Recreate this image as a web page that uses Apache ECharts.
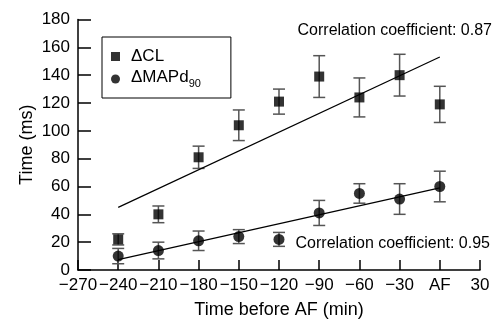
<!DOCTYPE html>
<html>
<head>
<meta charset="utf-8">
<script src="https://cdn.jsdelivr.net/npm/echarts@6/dist/echarts.min.js"></script>
<style>
  html, body { margin: 0; padding: 0; background: #fff; }
  #chart { width: 497px; height: 320px; }
</style>
</head>
<body>
<div id="chart"></div>
<script>
// time before AF (min), 0 = AF
const times = [-240, -210, -180, -150, -120, -90, -60, -30, 0]

// delta CL (ms) with error
const clMean = [22, 40, 81, 104, 121, 139, 124, 140, 119]
const clErr = [4, 6, 8, 11, 9, 15, 14, 15, 13]

// delta MAPd90 (ms) with error
const mapMean = [10, 14, 21, 24, 22, 41, 55, 51, 60]
const mapErr = [5.5, 6, 7, 5, 5, 9, 7, 11, 11]

// regression lines endpoints
const clFit = [[-240, 45], [0, 153]]
const mapFit = [[-240, 7.5], [0, 59]]

const font = 'Liberation Sans, Arial, Helvetica, sans-serif'

const chart = echarts.init(document.getElementById('chart'))

const errorSeries = (mean, err) => ({
  type: 'custom',
  silent: true,
  z: 1,
  data: times.map((t, i) => [t, mean[i] - err[i], mean[i] + err[i]]),
  renderItem: (params, api) => {
    const lo = api.coord([api.value(0), api.value(1)])
    const hi = api.coord([api.value(0), api.value(2)])
    const half = 6
    const style = { stroke: '#555', lineWidth: 1.5 }
    return {
      type: 'group',
      children: [
        { type: 'line', shape: { x1: lo[0], y1: lo[1], x2: hi[0], y2: hi[1] }, style },
        { type: 'line', shape: { x1: lo[0] - half, y1: lo[1], x2: lo[0] + half, y2: lo[1] }, style },
        { type: 'line', shape: { x1: hi[0] - half, y1: hi[1], x2: hi[0] + half, y2: hi[1] }, style }
      ]
    }
  }
})

const option = {
  animation: false,
  backgroundColor: '#fff',
  textStyle: { fontFamily: font },
  grid: { left: 78, right: 17, top: 19.5, bottom: 50, containLabel: false, outerBoundsMode: 'none' },
  legend: {
    orient: 'vertical',
    left: 102,
    top: 37,
    itemWidth: 9,
    itemHeight: 9,
    itemGap: 4,
    padding: [11, 30, 9, 9],
    borderColor: '#000',
    borderWidth: 1,
    borderRadius: 0,
    data: [
      { name: 'ΔCL', icon: 'rect' },
      { name: 'ΔMAPd90', icon: 'circle' }
    ],
    formatter: name => name === 'ΔMAPd90' ? '{a|ΔMAPd}{s|90}' : '{b|' + name + '}',
    textStyle: {
      color: '#000',
      rich: {
        b: { fontSize: 17, fontFamily: font, color: '#000', lineHeight: 20, padding: [0, 0, 0, 6] },
        a: { fontSize: 17, fontFamily: font, color: '#000', lineHeight: 20, verticalAlign: 'top', padding: [0, 0, 0, 6] },
        s: { fontSize: 11, fontFamily: font, color: '#000', lineHeight: 14, verticalAlign: 'bottom' }
      }
    }
  },
  xAxis: {
    type: 'value',
    min: -270,
    max: 30,
    interval: 30,
    name: 'Time before AF (min)',
    nameLocation: 'middle',
    nameGap: 31,
    nameMoveOverlap: false,
    nameTextStyle: { fontSize: 18, color: '#000', fontFamily: font },
    axisLine: { onZero: false, lineStyle: { color: '#000', width: 1.5 } },
    axisTick: { inside: true, length: 10, lineStyle: { color: '#000', width: 1.5 } },
    axisLabel: {
      fontSize: 17,
      color: '#000',
      margin: 7,
      formatter: v => v === 0 ? 'AF' : String(v).replace('-', '\u2212')
    },
    splitLine: { show: false }
  },
  yAxis: {
    type: 'value',
    min: 0,
    max: 180,
    interval: 20,
    name: 'Time (ms)',
    nameLocation: 'middle',
    nameGap: 42,
    nameMoveOverlap: false,
    nameTextStyle: { fontSize: 18, color: '#000', fontFamily: font },
    axisLine: { show: true, onZero: false, lineStyle: { color: '#000', width: 1.5 } },
    axisTick: { show: true, inside: true, length: 13, lineStyle: { color: '#000', width: 1.5 } },
    axisLabel: { fontSize: 17, color: '#000', margin: 8 },
    splitLine: { show: false }
  },
  graphic: [
    {
      type: 'text',
      right: 5,
      top: 23,
      style: { text: 'Correlation coefficient: 0.87', fontSize: 16, fontFamily: font, fill: '#000' }
    },
    {
      type: 'text',
      right: 7,
      top: 236,
      style: { text: 'Correlation coefficient: 0.95', fontSize: 16, fontFamily: font, fill: '#000' }
    }
  ],
  series: [
    {
      type: 'line',
      data: clFit,
      symbol: 'none',
      silent: true,
      z: 1,
      lineStyle: { color: '#000', width: 1.2 }
    },
    {
      type: 'line',
      data: mapFit,
      symbol: 'none',
      silent: true,
      z: 1,
      lineStyle: { color: '#000', width: 1.2 }
    },
    errorSeries(clMean, clErr),
    errorSeries(mapMean, mapErr),
    {
      name: 'ΔCL',
      type: 'scatter',
      symbol: 'rect',
      symbolSize: 10,
      z: 3,
      itemStyle: { color: '#000' },
      data: times.map((t, i) => [t, clMean[i]])
    },
    {
      name: 'ΔMAPd90',
      type: 'scatter',
      symbol: 'circle',
      symbolSize: 11,
      z: 3,
      itemStyle: { color: '#000' },
      data: times.map((t, i) => [t, mapMean[i]])
    }
  ]
}

chart.setOption(option)
</script>
</body>
</html>
